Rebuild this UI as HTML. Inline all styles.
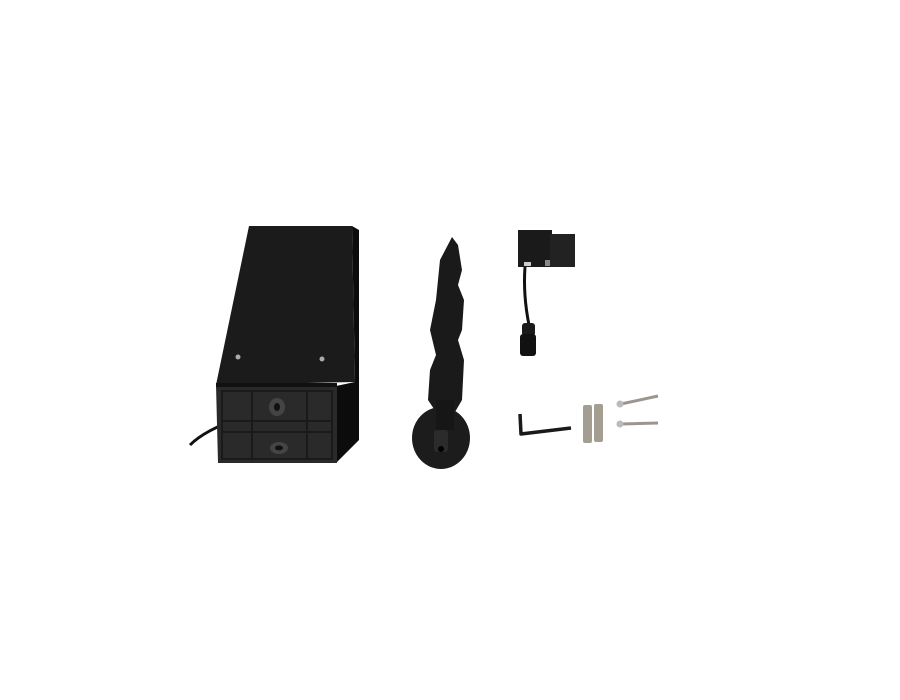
<!DOCTYPE html>
<html><head><style>html,body{margin:0;padding:0;background:#fff;width:900px;height:700px;overflow:hidden}</style></head>
<body>
<svg width="900" height="700" viewBox="0 0 900 700" xmlns="http://www.w3.org/2000/svg">
<rect width="900" height="700" fill="#fff"/>
<!-- main lamp body -->
<path d="M190,445 Q205,430 240,418" stroke="#111" stroke-width="3" fill="none"/>
<polygon points="352,226 359,230 359,440 336,463 336,386 355,382" fill="#0c0c0c"/>
<polygon points="249,226 352,226 355,382 216,385" fill="#1b1b1b"/>
<polygon points="216,385 337,385 337,463 218,463" fill="#2a2a2a"/>
<rect x="216" y="383" width="121" height="4" fill="#111"/>
<g stroke="#1a1a1a" stroke-width="2" fill="none">
<rect x="222" y="391" width="110" height="68"/>
<line x1="222" y1="421" x2="332" y2="421"/>
<line x1="222" y1="432" x2="332" y2="432"/>
<line x1="252" y1="391" x2="252" y2="459"/>
<line x1="307" y1="391" x2="307" y2="459"/>
</g>
<ellipse cx="277" cy="407" rx="8" ry="9" fill="#444"/><ellipse cx="277" cy="407" rx="3" ry="4" fill="#111"/>
<ellipse cx="279" cy="448" rx="9" ry="6" fill="#444"/><ellipse cx="279" cy="448" rx="4" ry="2.5" fill="#111"/>
<circle cx="238" cy="357" r="2.5" fill="#aaa"/><circle cx="322" cy="359" r="2.5" fill="#aaa"/>
<!-- spike -->
<polygon points="452,237 458,245 462,270 458,285 464,300 462,330 458,340 464,360 462,400 455,412 436,412 428,400 430,370 436,355 430,330 436,300 440,260" fill="#1a1a1a"/>
<ellipse cx="441" cy="438" rx="29" ry="31" fill="#1c1c1c"/>
<rect x="436" y="400" width="18" height="30" fill="#161616"/>
<rect x="434" y="430" width="14" height="22" rx="3" fill="#2b2b2b"/>
<circle cx="441" cy="449" r="3" fill="#000"/>
<!-- connector -->
<rect x="518" y="230" width="34" height="37" fill="#1a1a1a"/>
<rect x="550" y="234" width="25" height="33" fill="#222"/>
<rect x="524" y="262" width="7" height="4" fill="#ccc"/>
<rect x="545" y="260" width="5" height="6" fill="#888"/>
<path d="M525,267 Q523,295 529,325" stroke="#111" stroke-width="3" fill="none"/>
<rect x="522" y="323" width="13" height="13" rx="3" fill="#1a1a1a"/>
<rect x="520" y="334" width="16" height="22" rx="3" fill="#111"/>
<!-- allen key -->
<path d="M520,414 L521,434 L571,428" stroke="#1a1a1a" stroke-width="3.5" fill="none" stroke-linejoin="round"/>
<!-- anchors -->
<rect x="583" y="405" width="9" height="38" rx="2" fill="#a39d92"/>
<rect x="594" y="404" width="9" height="38" rx="2" fill="#a39d92"/>
<!-- screws -->
<line x1="621" y1="404" x2="658" y2="396" stroke="#9a968f" stroke-width="3"/>
<circle cx="620" cy="404" r="3.5" fill="#bbb"/>
<line x1="621" y1="424" x2="658" y2="423" stroke="#9a968f" stroke-width="3"/>
<circle cx="620" cy="424" r="3.5" fill="#bbb"/>
</svg>
</body></html>
